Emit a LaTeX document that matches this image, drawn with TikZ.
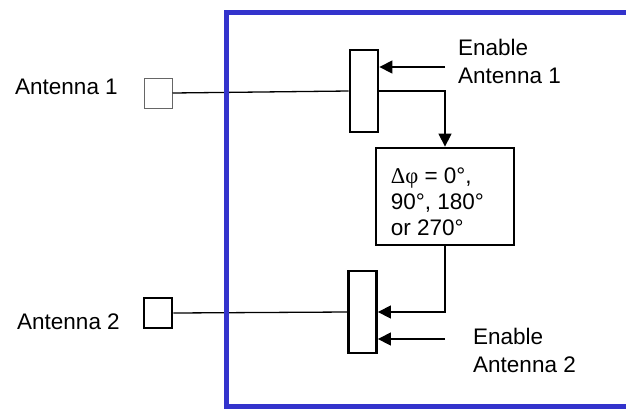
\documentclass[tikz,border=0pt]{standalone}
\usepackage{fontspec}
\setmainfont{Liberation Sans}
\newfontfamily\symfont{Liberation Serif}
\usetikzlibrary{positioning,arrows.meta,calc}
\definecolor{frameblue}{RGB}{51,51,204}

\begin{document}
\begin{tikzpicture}[
  x=1bp, y=-1bp,
  font=\fontsize{22.5bp}{28bp}\selectfont,
  txt/.style={inner sep=0pt, align=left},
  ant/.style={draw, minimum width=28bp, minimum height=30bp, inner sep=0pt},
  sw/.style={draw, line width=2.8bp, minimum width=28bp, minimum height=82bp, inner sep=0pt},
  blk/.style={draw, line width=2.8bp, minimum width=138bp, minimum height=97bp, inner sep=0pt},
  wire/.style={line width=1.3bp},
  arr/.style={wire, -{Triangle[length=13bp,width=13bp]}}
]
\useasboundingbox (0,0) rectangle (626,408);

% antennas
\node[ant, draw=black!60, line width=1bp] (sq1) at (158,93)  {};
\node[ant, line width=2.8bp]              (sq2) at (158,313) {};
\node[txt, anchor=west] (ant1) at (15,87)  {Antenna 1};
\node[txt, anchor=west] (ant2) at (17,322) {Antenna 2};

% switches and phase shifter
\node[sw]  (sw1)   at (364,91)    {};
\node[sw]  (sw2)   at (362.5,312) {};
\node[blk] (phase) at (445,196.5) {};
\node[txt, anchor=west, font=\fontsize{22.5bp}{26bp}\selectfont]
  (phtxt) at ($(phase.west)+(16,5)$) {{\symfont Δφ} = 0°,\\90°, 180°\\or 270°};

% enable inputs
\node[txt, anchor=west] (en1) at (458,61)  {Enable\\Antenna 1};
\node[txt, anchor=west] (en2) at (473,350) {Enable\\Antenna 2};
\coordinate (e1) at (445,67);
\coordinate (e2) at (445,339);

\draw[wire] (sq1.east) -- (sw1.west);
\draw[wire] (sq2.east) -- (sw2.west);
\draw[arr]  (sw1.east) -| (phase.north);
\draw[arr]  (phase.south) |- (sw2.east);
\draw[arr]  (e1) -- (e1 -| sw1.east);
\draw[arr]  (e2) -- (e2 -| sw2.east);

% device outline
\draw[frameblue, line width=5bp] (640,12) -- (226,12) -- (226,406) -- (640,406);
\end{tikzpicture}
\end{document}
